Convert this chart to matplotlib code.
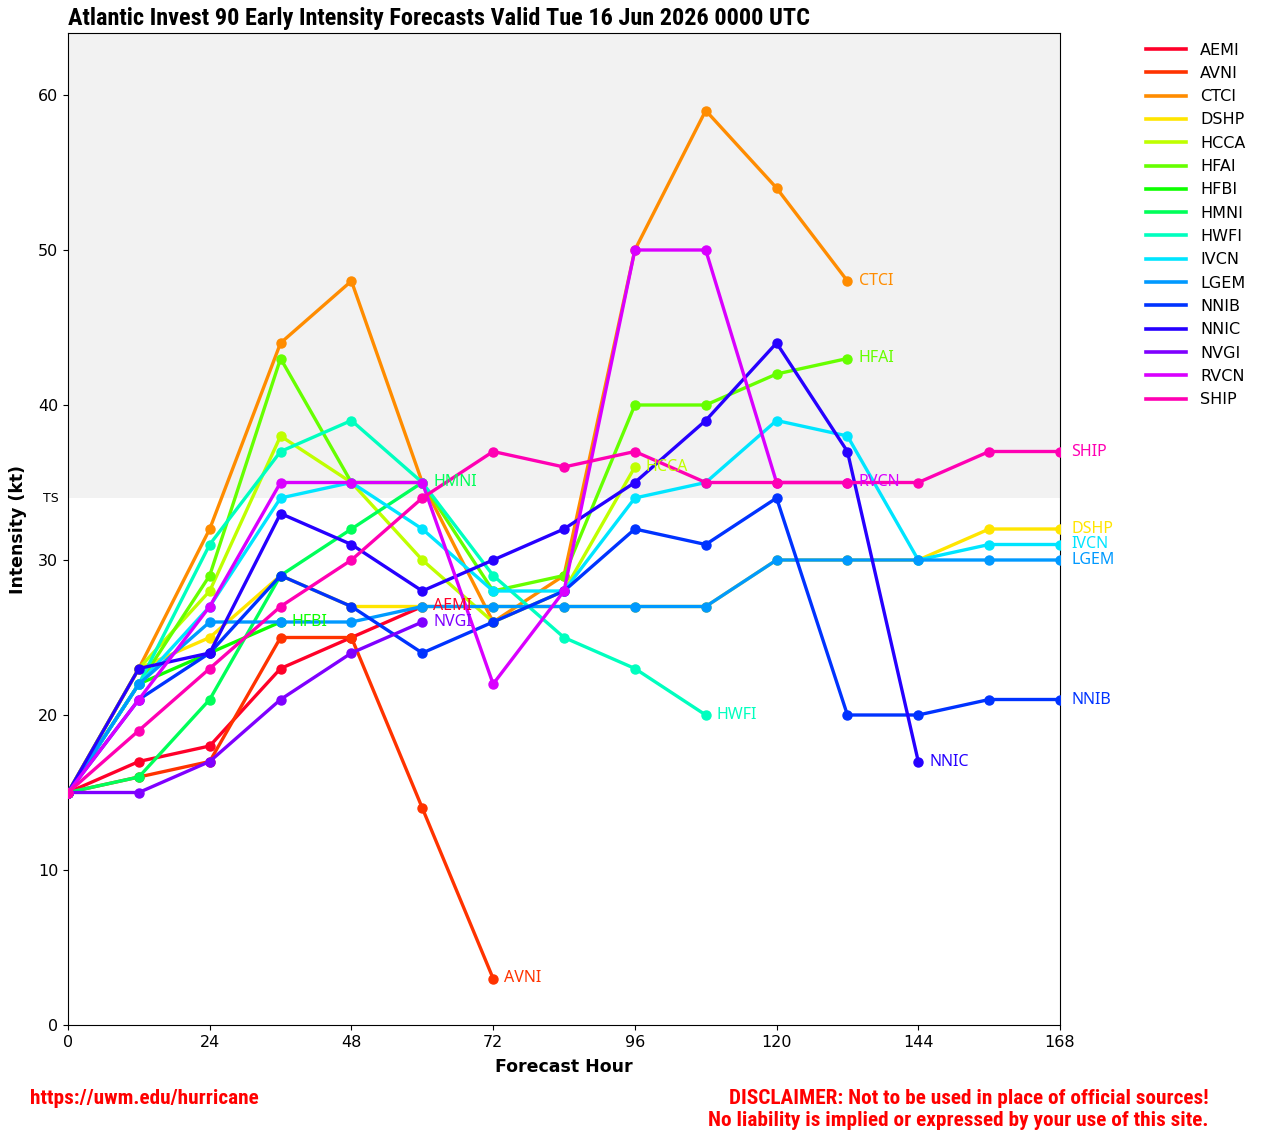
import numpy as np
import matplotlib
matplotlib.use("Agg")
import matplotlib.pyplot as plt
from matplotlib import font_manager
from matplotlib.lines import Line2D

nan = np.nan
hours = [0, 12, 24, 36, 48, 60, 72, 84, 96, 108, 120, 132, 144, 156, 168]

models = ["AEMI", "AVNI", "CTCI", "DSHP", "HCCA", "HFAI", "HFBI", "HMNI",
          "HWFI", "IVCN", "LGEM", "NNIB", "NNIC", "NVGI", "RVCN", "SHIP"]

AEMI = [15, 17, 18, 23, 25, 27, nan, nan, nan, nan, nan, nan, nan, nan, nan]
AVNI = [15, 16, 17, 25, 25, 14, 3, nan, nan, nan, nan, nan, nan, nan, nan]
CTCI = [15, 23, 32, 44, 48, 35, 26, 29, 50, 59, 54, 48, nan, nan, nan]
DSHP = [15, 23, 25, 29, 27, 27, 27, 27, 27, 27, 30, 30, 30, 32, 32]
HCCA = [15, 23, 28, 38, 35, 30, 26, 28, 36, nan, nan, nan, nan, nan, nan]
HFAI = [15, 22, 29, 43, 35, 35, 28, 29, 40, 40, 42, 43, nan, nan, nan]
HFBI = [15, 22, 24, 26, nan, nan, nan, nan, nan, nan, nan, nan, nan, nan, nan]
HMNI = [15, 16, 21, 29, 32, 35, nan, nan, nan, nan, nan, nan, nan, nan, nan]
HWFI = [15, 22, 31, 37, 39, 35, 29, 25, 23, 20, nan, nan, nan, nan, nan]
IVCN = [15, 22, 27, 34, 35, 32, 28, 28, 34, 35, 39, 38, 30, 31, 31]
LGEM = [15, 22, 26, 26, 26, 27, 27, 27, 27, 27, 30, 30, 30, 30, 30]
NNIB = [15, 21, 24, 29, 27, 24, 26, 28, 32, 31, 34, 20, 20, 21, 21]
NNIC = [15, 23, 24, 33, 31, 28, 30, 32, 35, 39, 44, 37, 17, nan, nan]
NVGI = [15, 15, 17, 21, 24, 26, nan, nan, nan, nan, nan, nan, nan, nan, nan]
RVCN = [15, 21, 27, 35, 35, 35, 22, 28, 50, 50, 35, 35, nan, nan, nan]
SHIP = [15, 19, 23, 27, 30, 34, 37, 36, 37, 35, 35, 35, 35, 37, 37]

series = [AEMI, AVNI, CTCI, DSHP, HCCA, HFAI, HFBI, HMNI,
          HWFI, IVCN, LGEM, NNIB, NNIC, NVGI, RVCN, SHIP]

colors = ["#ff0029", "#ff3300", "#ff8c00", "#ffe500", "#bfff00", "#66ff00",
          "#0dff00", "#00ff59", "#00ffbf", "#00e5ff", "#0099ff", "#0033ff",
          "#2600ff", "#7f00ff", "#d900ff", "#ff00b3"]

available = {f.name for f in font_manager.fontManager.ttflist}
narrow = "DejaVu Sans"
for cand in ["Liberation Sans Narrow", "DejaVu Sans Condensed", "Roboto Condensed",
             "Open Sans Condensed", "Noto Sans Condensed"]:
    if cand in available:
        narrow = cand
        break
label_font = "Noto Sans" if "Noto Sans" in available else "DejaVu Sans"

fig = plt.figure(figsize=(12.63, 11.39), dpi=100)
ax = fig.add_axes([68/1263, 1 - 1025/1139, (1060-68)/1263, (1025-33)/1139])

ax.set_xlim(0, 168)
ax.set_ylim(0, 64)
ax.axhspan(34, 64, color="#f2f2f2", zorder=0, lw=0)

handles = []
for name, vals, c in zip(models, series, colors):
    y = np.array(vals, dtype=float)
    x = np.array(hours, dtype=float)
    m = ~np.isnan(y)
    ax.plot(x[m], y[m], color=c, lw=2.4, marker="o", ms=6.5,
            solid_capstyle="round", zorder=3)
    handles.append(Line2D([], [], color=c, lw=2.6, label=name))
    xl, yl = x[m][-1], y[m][-1]
    ax.annotate(name, (xl, yl), xytext=(8, 0), textcoords="offset points",
                color=c, fontsize=11.5, va="center", ha="left", family=label_font,
                fontweight="medium", annotation_clip=False, zorder=4)

ax.set_xticks(hours[::2])
ax.set_xticklabels([str(h) for h in hours[::2]])
ax.set_yticks([0, 10, 20, 30, 40, 50, 60])
ax.tick_params(labelsize=11.5)
ax.text(-1.5, 34, "TS", fontsize=9, ha="right", va="center", transform=ax.transData)

ax.set_xlabel("Forecast Hour", fontsize=12.5, fontweight="bold", labelpad=6)
ax.set_ylabel("Intensity (kt)", fontsize=12.5, fontweight="bold", labelpad=8)

fig.text(68/1263, 1 - 19/1139, "Atlantic Invest 90 Early Intensity Forecasts Valid Tue 16 Jun 2026 0000 UTC",
         fontsize=17.5, fontweight="bold", family=narrow, ha="left", va="center")

ax.legend(handles=handles, loc="upper left", bbox_to_anchor=(1.077, 1.0), frameon=False,
          fontsize=11.5, handlelength=2.5, handletextpad=0.9, labelspacing=0.52,
          borderaxespad=0.2)

fig.text(30/1263, 1 - 1099/1139, "https://uwm.edu/hurricane", color="red",
         fontsize=15.3, fontweight="bold", family=narrow, ha="left", va="center")
fig.text(1209/1263, 1 - 1099/1139, "DISCLAIMER: Not to be used in place of official sources!",
         color="red", fontsize=15.3, fontweight="bold", family=narrow, ha="right", va="center")
fig.text(1209/1263, 1 - 1120/1139, "No liability is implied or expressed by your use of this site.",
         color="red", fontsize=15.3, fontweight="bold", family=narrow, ha="right", va="center")

fig.savefig("out.png", dpi=100)
